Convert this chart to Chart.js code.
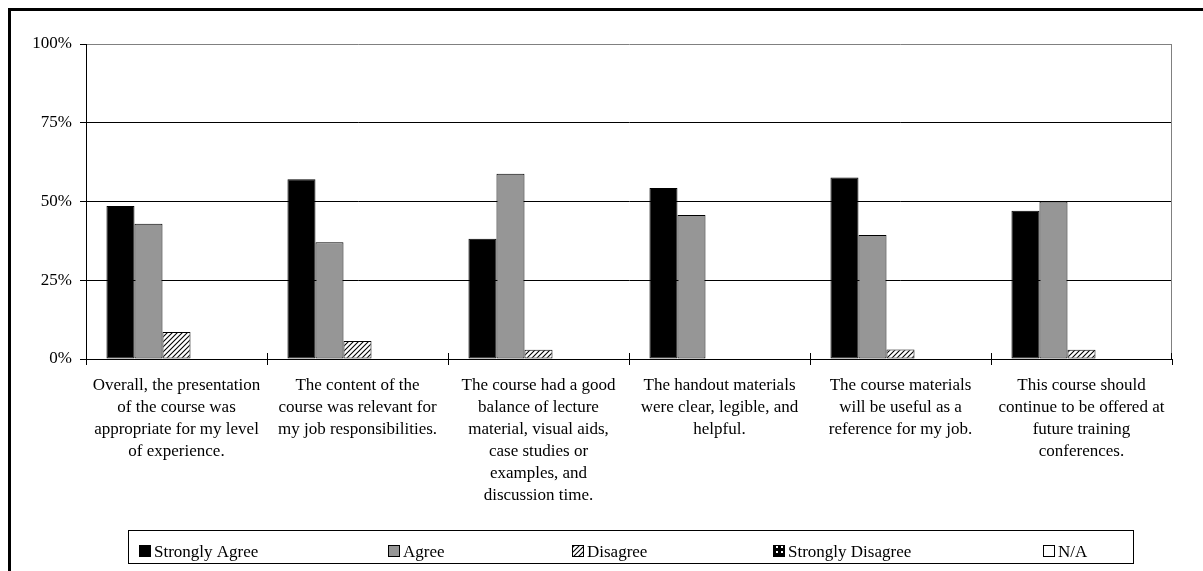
<!DOCTYPE html>
<html>
<head>
<meta charset="utf-8">
<title>Course Evaluation Responses</title>
<script src="https://cdn.jsdelivr.net/npm/chart.js@4/dist/chart.umd.min.js"></script>
<style>
  html, body { margin: 0; padding: 0; background: #fff; }
  #wrap { position: relative; width: 1203px; height: 571px; }
  canvas { display: block; }
</style>
</head>
<body>
<div id="wrap"><canvas id="chart" width="1203" height="571"></canvas></div>
<script>
// Survey statements (wrapped onto lines as printed under each group)
const categories = [
  ["Overall, the presentation", "of the course was", "appropriate for my level", "of experience."],
  ["The content of the", "course was relevant for", "my job responsibilities."],
  ["The course had a good", "balance of lecture", "material, visual aids,", "case studies or", "examples, and", "discussion time."],
  ["The handout materials", "were clear, legible, and", "helpful."],
  ["The course materials", "will be useful as a", "reference for my job."],
  ["This course should", "continue to be offered at", "future training", "conferences."]
];

// Share of responses per statement, in percent
const strongAgree    = [48.6, 57.1, 38.2, 54.3, 57.6, 47.1];
const agree          = [42.9, 37.1, 58.8, 45.7, 39.4, 50.0];
const disagree       = [8.6, 5.7, 2.9, 0, 3.0, 2.9];
const strongDisagree = [0, 0, 0, 0, 0, 0];
const notApplicable  = [0, 0, 0, 0, 0, 0];

const seriesNames = ["Strongly Agree", "Agree", "Disagree", "Strongly Disagree", "N/A"];
const yTickValues = [0, 25, 50, 75, 100];

const FONT = '"Liberation Serif", "Times New Roman", serif';

// Fill patterns for the hatched series
function diagonalHatch() {
  const c = document.createElement('canvas');
  c.width = 5; c.height = 5;
  const g = c.getContext('2d');
  g.fillStyle = '#fff';
  g.fillRect(0, 0, 5, 5);
  g.strokeStyle = '#000';
  g.lineWidth = 1.1;
  g.beginPath();
  g.moveTo(0, 5); g.lineTo(5, 0);
  g.moveTo(-1, 1); g.lineTo(1, -1);
  g.moveTo(4, 6); g.lineTo(6, 4);
  g.stroke();
  return g.createPattern(c, 'repeat');
}
function blockPattern() {
  const c = document.createElement('canvas');
  c.width = 5; c.height = 5;
  const g = c.getContext('2d');
  g.fillStyle = '#000';
  g.fillRect(0, 0, 5, 5);
  g.fillStyle = '#fff';
  g.fillRect(1, 1, 2, 2);
  return g.createPattern(c, 'repeat');
}

const fills = ['#000000', '#969696', diagonalHatch(), blockPattern(), '#ffffff'];
const seriesData = [strongAgree, agree, disagree, strongDisagree, notApplicable];

const datasets = seriesNames.map((name, i) => ({
  label: name,
  data: seriesData[i],
  backgroundColor: fills[i],
  borderColor: '#000',
  borderWidth: 1,
  borderSkipped: false,
  categoryPercentage: 0.774,
  barPercentage: 1.0
}));

// Outer frame, grey plot border, crossing category ticks and boxed legend
const decorations = {
  id: 'decorations',
  beforeDraw(chart) {
    const ctx = chart.ctx;
    ctx.save();
    ctx.fillStyle = '#fff';
    ctx.fillRect(0, 0, chart.width, chart.height);
    ctx.strokeStyle = '#000';
    ctx.lineWidth = 3;
    ctx.beginPath();
    ctx.moveTo(9.5, chart.height);
    ctx.lineTo(9.5, 9.5);
    ctx.lineTo(chart.width, 9.5);
    ctx.stroke();
    ctx.restore();
  },
  afterDatasetsDraw(chart) {
    const ctx = chart.ctx;
    const a = chart.chartArea;
    ctx.save();
    ctx.strokeStyle = '#808080';
    ctx.lineWidth = 1;
    ctx.beginPath();
    ctx.moveTo(Math.round(a.right) - 0.5, Math.round(a.top) + 0.5);
    ctx.lineTo(Math.round(a.right) - 0.5, Math.round(a.bottom));
    ctx.stroke();
    // category tick marks also reach a little above the axis
    const n = chart.data.labels.length;
    const step = (a.right - a.left) / n;
    ctx.strokeStyle = '#000';
    ctx.beginPath();
    for (let i = 0; i <= n; i++) {
      const px = Math.round(a.left + i * step) + (i === n ? -0.5 : 0.5);
      ctx.moveTo(px, a.bottom - 6);
      ctx.lineTo(px, a.bottom);
    }
    ctx.stroke();
    ctx.restore();
  },
  afterDraw(chart, args, opts) {
    const ctx = chart.ctx;
    ctx.save();
    ctx.strokeStyle = '#000';
    ctx.lineWidth = 1;
    ctx.strokeRect(opts.box.x + 0.5, opts.box.y + 0.5, opts.box.w, opts.box.h);
    ctx.font = '17px ' + FONT;
    ctx.textBaseline = 'alphabetic';
    ctx.textAlign = 'left';
    chart.data.datasets.forEach((ds, i) => {
      const x = opts.itemX[i];
      const y = opts.markerY;
      ctx.fillStyle = ds.backgroundColor;
      ctx.fillRect(x + 0.5, y + 0.5, 11, 11);
      ctx.strokeStyle = '#000';
      ctx.strokeRect(x + 0.5, y + 0.5, 11, 11);
      ctx.fillStyle = '#000';
      ctx.fillText(ds.label, x + 15, opts.textY);
    });
    ctx.restore();
  }
};

new Chart(document.getElementById('chart'), {
  type: 'bar',
  data: { labels: categories, datasets },
  options: {
    responsive: false,
    animation: false,
    devicePixelRatio: 1,
    layout: { padding: { left: 0, top: 44, right: 31, bottom: 0 } },
    plugins: {
      legend: { display: false },
      tooltip: { enabled: false },
      decorations: {
        box: { x: 128, y: 530, w: 1005, h: 33 },
        itemX: [139, 388, 572, 773, 1043],
        markerY: 545,
        textY: 557
      }
    },
    scales: {
      x: {
        offset: true,
        grid: {
          offset: true,
          drawOnChartArea: false,
          drawTicks: true,
          tickLength: 6,
          color: '#000'
        },
        border: { color: '#000', width: 1 },
        ticks: {
          color: '#000',
          font: { family: FONT, size: 17, lineHeight: 1.3 },
          padding: 9,
          maxRotation: 0,
          minRotation: 0,
          autoSkip: false
        },
        afterFit(scale) { scale.height = 212; }
      },
      y: {
        min: 0,
        max: 100,
        afterBuildTicks(scale) { scale.ticks = yTickValues.map(v => ({ value: v })); },
        grid: {
          color: ctx => (ctx.tick && ctx.tick.value === 100 ? '#808080' : '#000'),
          tickColor: '#000',
          lineWidth: 1,
          drawTicks: true,
          tickLength: 6
        },
        border: { color: '#000', width: 1 },
        ticks: {
          color: '#000',
          font: { family: FONT, size: 17 },
          padding: 8,
          callback: v => v + '%'
        },
        afterFit(scale) { scale.width = 86; }
      }
    }
  },
  plugins: [decorations]
});
</script>
</body>
</html>
